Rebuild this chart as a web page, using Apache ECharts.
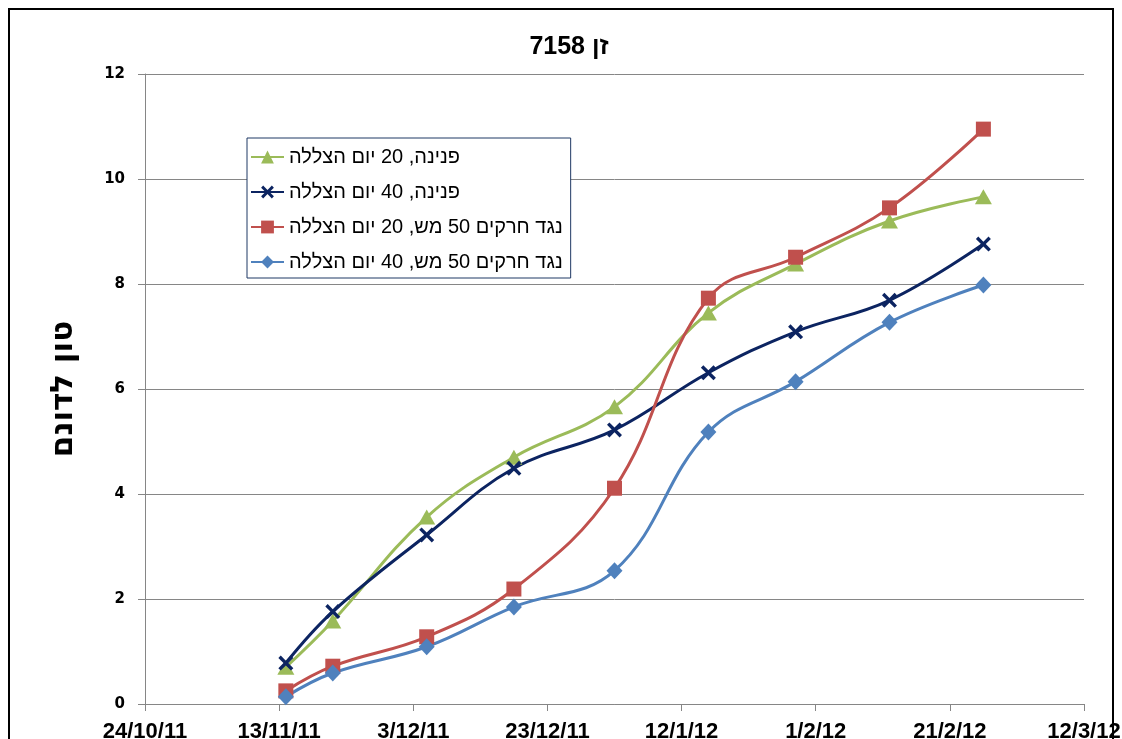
<!DOCTYPE html>
<html>
<head>
<meta charset="utf-8">
<script src="https://cdn.jsdelivr.net/npm/echarts@6/dist/echarts.min.js"></script>
<style>
  html, body { margin: 0; padding: 0; background: #fff; }
  #chart { width: 1122px; height: 739px; }
</style>
</head>
<body>
<div id="chart"></div>
<script>
// Sampling dates (d/m/yy)
const sampleDates = ['14/11/11', '21/11/11', '5/12/11', '18/12/11', '2/1/12', '16/1/12', '29/1/12', '12/2/12', '26/2/12'];

// Yield, ton per dunam
const pnina20 = [0.70, 1.58, 3.56, 4.70, 5.66, 7.45, 8.38, 9.20, 9.66];
const pnina40 = [0.78, 1.76, 3.22, 4.49, 5.22, 6.31, 7.09, 7.69, 8.76];
const net20   = [0.25, 0.72, 1.28, 2.19, 4.11, 7.73, 8.51, 9.45, 10.95];
const net40   = [0.14, 0.59, 1.09, 1.85, 2.54, 5.18, 6.14, 7.27, 7.98];

const seriesNames = [
  'פנינה, 20 יום הצללה',
  'פנינה, 40 יום הצללה',
  'נגד חרקים 50 מש, 20 יום הצללה',
  'נגד חרקים 50 מש, 40 יום הצללה'
];

// Date axis tick labels, one every 20 days from the axis start
const xTickLabels = ['24/10/11', '13/11/11', '3/12/11', '23/12/11', '12/1/12', '1/2/12', '21/2/12', '12/3/12'];
const axisStart = '24/10/11';
const tickStepDays = 20;

function toUTC(s) {
  const [d, m, y] = s.split('/').map(Number);
  return Date.UTC(2000 + y, m - 1, d);
}
const DAY = 86400000;
const dayOffset = s => Math.round((toUTC(s) - toUTC(axisStart)) / DAY);
const xDays = sampleDates.map(dayOffset);
const xMax = tickStepDays * (xTickLabels.length - 1);

const pairs = vals => vals.map((v, i) => [xDays[i], v]);

const crossPath = 'path://M0,1.6L1.6,0L5,3.4L8.4,0L10,1.6L6.6,5L10,8.4L8.4,10L5,6.6L1.6,10L0,8.4L3.4,5Z';

function lineSeries(name, vals, color, symbol, size) {
  return {
    name: name,
    type: 'line',
    data: pairs(vals),
    smooth: 0.4,
    symbol: symbol,
    symbolSize: size,
    showAllSymbol: true,
    lineStyle: { color: color, width: 3 },
    itemStyle: { color: color, borderWidth: 0 },
    emphasis: { disabled: true }
  };
}

const chart = echarts.init(document.getElementById('chart'));
chart.setOption({
  animation: false,
  backgroundColor: '#ffffff',
  title: {
    text: 'זן 7158',
    left: 564,
    textAlign: 'center',
    top: 30,
    textStyle: { fontFamily: 'Arial, "Liberation Sans", sans-serif', fontWeight: 'bold', fontSize: 25, color: '#000' }
  },
  legend: {
    orient: 'vertical',
    left: 247,
    top: 138,
    align: 'left',
    padding: [9, 8, 6, 3],
    itemGap: 15,
    itemWidth: 33,
    itemHeight: 16,
    backgroundColor: '#ffffff',
    borderColor: '#1f3864',
    borderWidth: 1,
    textStyle: { fontFamily: 'Arial, "Liberation Sans", sans-serif', fontSize: 20, color: '#000', lineHeight: 20 },
    data: seriesNames
  },
  grid: { left: 145, right: 38, top: 74, bottom: 35, outerBoundsMode: 'none', containLabel: false },
  xAxis: {
    type: 'value',
    min: 0,
    max: xMax,
    interval: tickStepDays,
    axisLine: { show: true, lineStyle: { color: '#868686', width: 1 } },
    axisTick: { show: true, length: 7, lineStyle: { color: '#868686' } },
    splitLine: { show: false },
    axisLabel: {
      margin: 17,
      fontFamily: 'Arial, "Liberation Sans", sans-serif',
      fontWeight: 'bold',
      fontSize: 22,
      color: '#000',
      formatter: v => xTickLabels[Math.round(v / tickStepDays)] || ''
    }
  },
  yAxis: {
    type: 'value',
    min: 0,
    max: 12,
    interval: 2,
    name: 'טון לדונם',
    nameLocation: 'middle',
    nameGap: 66,
    nameTextStyle: { fontFamily: '"DejaVu Sans", sans-serif', fontWeight: 'bold', fontSize: 31, color: '#000' },
    axisLine: { show: true, lineStyle: { color: '#868686', width: 1 } },
    axisTick: { show: true, inside: false, length: 7, lineStyle: { color: '#868686' } },
    splitLine: { show: true, lineStyle: { color: '#868686', width: 1 } },
    axisLabel: {
      margin: 20,
      fontFamily: '"DejaVu Sans", Verdana, sans-serif',
      fontWeight: 'bold',
      fontSize: 15,
      color: '#000'
    }
  },
  graphic: [{
    type: 'rect',
    shape: { x: 9, y: 9, width: 1104, height: 760 },
    style: { fill: 'none', stroke: '#000', lineWidth: 2 },
    silent: true,
    z: 100
  }],
  series: [
    lineSeries(seriesNames[0], pnina20, '#9bbb59', 'triangle', [17, 15]),
    lineSeries(seriesNames[1], pnina40, '#0c2461', crossPath, 15),
    lineSeries(seriesNames[2], net20, '#c0504d', 'rect', 15),
    lineSeries(seriesNames[3], net40, '#4f81bd', 'diamond', [16, 17])
  ]
});
</script>
</body>
</html>
